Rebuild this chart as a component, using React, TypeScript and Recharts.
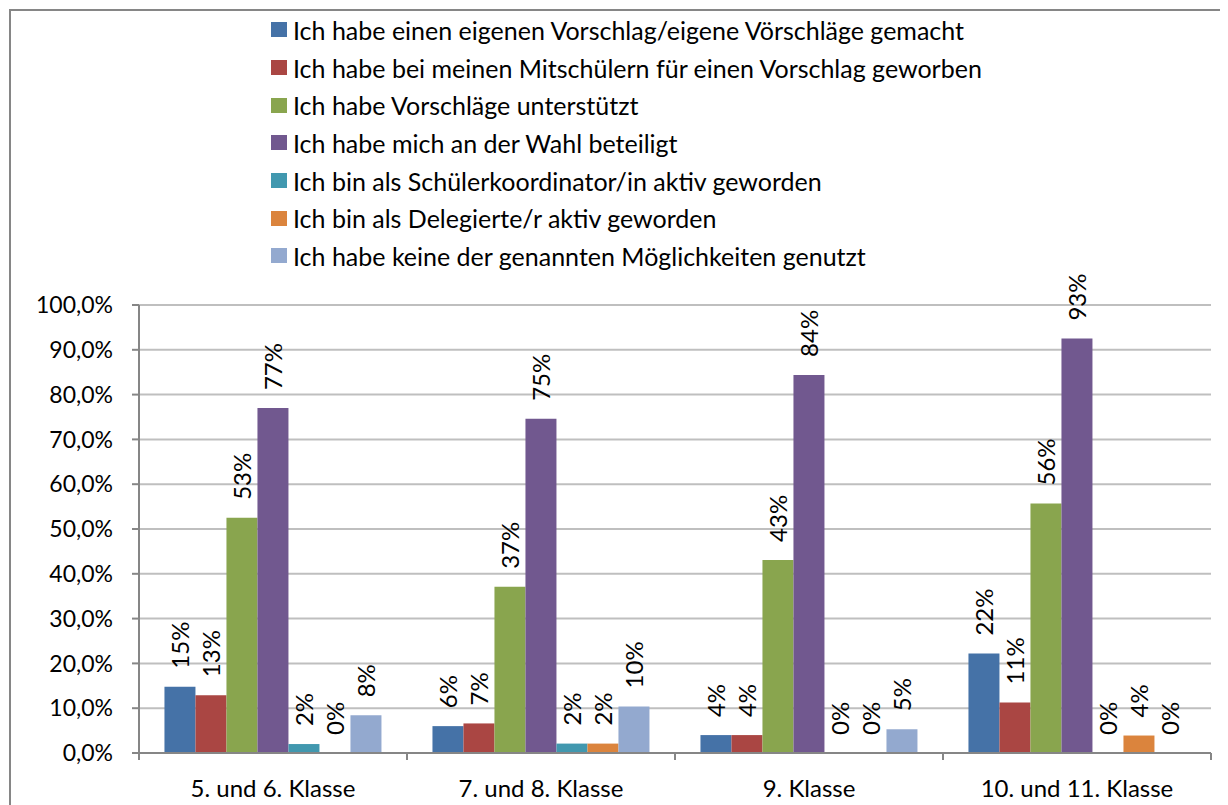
import { BarChart, Bar, XAxis, YAxis, CartesianGrid } from 'recharts';

const categories = ['5. und 6. Klasse', '7. und 8. Klasse', '9. Klasse', '10. und 11. Klasse'];

const seriesNames = [
  'Ich habe einen eigenen Vorschlag/eigene Vörschläge gemacht',
  'Ich habe bei meinen Mitschülern für einen Vorschlag geworben',
  'Ich habe Vorschläge unterstützt',
  'Ich habe mich an der Wahl beteiligt',
  'Ich bin als Schülerkoordinator/in aktiv geworden',
  'Ich bin als Delegierte/r aktiv geworden',
  'Ich habe keine der genannten Möglichkeiten genutzt',
];

const eigenerVorschlag = [14.8, 6.0, 4.0, 22.2];
const geworben = [12.9, 6.6, 4.0, 11.3];
const unterstuetzt = [52.5, 37.1, 43.1, 55.7];
const wahl = [77.0, 74.6, 84.4, 92.5];
const koordinator = [2.0, 2.1, 0, 0];
const delegierte = [0, 2.1, 0, 3.9];
const keine = [8.4, 10.4, 5.3, 0];

const yTicks = [0, 10, 20, 30, 40, 50, 60, 70, 80, 90, 100];

const seriesValues = [eigenerVorschlag, geworben, unterstuetzt, wahl, koordinator, delegierte, keine];
const colors = ['#4572A7', '#AA4643', '#89A54E', '#71588F', '#4198AF', '#DB843D', '#93A9CF'];
const keys = ['s0', 's1', 's2', 's3', 's4', 's5', 's6'];

const data = categories.map((name, i) => {
  const row: Record<string, string | number> = { name };
  seriesValues.forEach((vals, s) => {
    row[keys[s]] = vals[i];
  });
  return row;
});

const FONT = 'Lato, "Open Sans", sans-serif';

const BarLabel = (props: any) => {
  const x = Number(props.x);
  const y = Number(props.y);
  const w = Number(props.width);
  const cx = x + w / 2;
  const ty = y - 18;
  return (
    <text
      x={cx}
      y={ty}
      transform={`rotate(-90 ${cx} ${ty})`}
      textAnchor="start"
      dominantBaseline="central"
      fontSize={24}
      fontFamily={FONT}
      fill="#000"
    >
      {`${Math.round(Number(props.value))}%`}
    </text>
  );
};

const CategoryTick = (props: any) => {
  const { x, y, payload, index, visibleTicksCount, width } = props;
  const half = payload?.offset ?? width / visibleTicksCount / 2;
  return (
    <g>
      <line x1={x - half} x2={x - half} y1={y} y2={y + 7} stroke="#868686" strokeWidth={2} />
      {index === visibleTicksCount - 1 && (
        <line x1={x + half} x2={x + half} y1={y} y2={y + 7} stroke="#868686" strokeWidth={2} />
      )}
      <text x={x} y={y + 34} textAnchor="middle" dominantBaseline="central" fontSize={24} fontFamily={FONT} fill="#000">
        {payload.value}
      </text>
    </g>
  );
};

export default function App() {
  return (
    <div style={{ position: 'relative', width: 1220, height: 797, overflow: 'hidden', fontFamily: FONT }}>
      <div
        style={{
          position: 'absolute',
          left: 1,
          top: 1,
          width: 1400,
          height: 1000,
          border: '2px solid #868686',
          boxSizing: 'border-box',
        }}
      />
      <div style={{ position: 'absolute', left: 263, top: 3 }}>
        {seriesNames.map((n, i) => (
          <div key={n} style={{ height: 37.7, display: 'flex', alignItems: 'center', whiteSpace: 'nowrap' }}>
            <span style={{ display: 'inline-block', width: 16, height: 15, background: colors[i], marginRight: 6 }} />
            <span style={{ fontSize: 25, color: '#000' }}>{n}</span>
          </div>
        ))}
      </div>
      <div style={{ position: 'absolute', left: 0, top: 0 }}>
        <BarChart
          width={1220}
          height={797}
          data={data}
          margin={{ top: 297, right: 17, left: 51, bottom: 12 }}
          barCategoryGap="9.5%"
          barGap={0}
        >
          <CartesianGrid vertical={false} stroke="#BFBFBF" strokeWidth={2} />
          <XAxis
            dataKey="name"
            height={40}
            tickLine={false}
            tickSize={0}
            tickMargin={0}
            axisLine={{ stroke: '#868686', strokeWidth: 2 }}
            tick={<CategoryTick />}
            interval={0}
          />
          <YAxis
            width={80}
            domain={[0, 100]}
            ticks={yTicks}
            interval={0}
            tickSize={7}
            tickMargin={19}
            axisLine={{ stroke: '#868686', strokeWidth: 2 }}
            tickLine={{ stroke: '#868686', strokeWidth: 2 }}
            tick={{ fill: '#000', fontSize: 23, fontFamily: FONT }}
            tickFormatter={(v: number) => `${v.toFixed(1).replace('.', ',')}%`}
          />
          {keys.map((k, i) => (
            <Bar
              key={k}
              dataKey={k}
              name={seriesNames[i]}
              fill={colors[i]}
              minPointSize={0.01}
              isAnimationActive={false}
              label={<BarLabel />}
            />
          ))}
        </BarChart>
      </div>
    </div>
  );
}
